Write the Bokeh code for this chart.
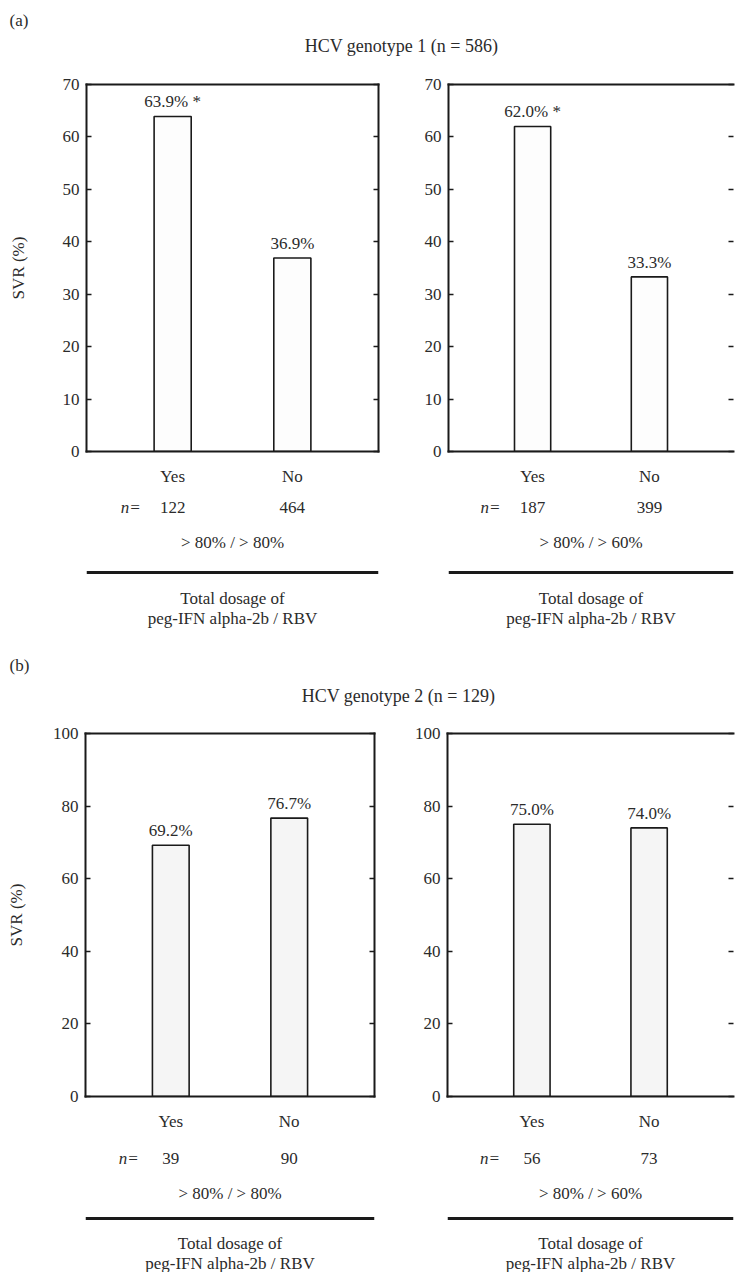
from bokeh.plotting import figure
from bokeh.models import (Range1d, LinearAxis, FixedTicker, ColumnDataSource,
                          LabelSet, Label, Span)
from bokeh.core.properties import value
from bokeh.layouts import column, row
from bokeh.embed import file_html
from bokeh.resources import INLINE

# ---------------- data ----------------
categories = ["Yes", "No"]
svr_g1_80_80 = [63.9, 36.9]
svr_g1_80_60 = [62.0, 33.3]
svr_g2_80_80 = [69.2, 76.7]
svr_g2_80_60 = [75.0, 74.0]
n_g1_80_80 = [122, 464]
n_g1_80_60 = [187, 399]
n_g2_80_80 = [39, 90]
n_g2_80_60 = [56, 73]
sig_g1_80_80 = ["*", ""]
sig_g1_80_60 = ["*", ""]
sig_g2_80_80 = ["", ""]
sig_g2_80_60 = ["", ""]
yticks_g1 = [0, 10, 20, 30, 40, 50, 60, 70]
yticks_g2 = [0, 20, 40, 60, 80, 100]
threshold_labels = ["> 80% / > 80%", "> 80% / > 60%"]
xlabel_lines = ["Total dosage of", "peg-IFN alpha-2b / RBV"]
group_titles = ["HCV genotype 1 (n = 586)", "HCV genotype 2 (n = 129)"]
panel_tags = ["(a)", "(b)"]
y_label = "SVR (%)"

# ---------------- style ----------------
FONT = "Liberation Serif"
FS = "17px"
TXT = "#2b2b2b"
LN = "#1a1a1a"
X0, X1 = -0.22, 2.22
xpos = [i + 0.5 for i in range(len(categories))]
BAR_W = 0.31
AXIS_BAND = 40  # space under the frame kept for the Yes/No axis


def hidden_label_axis(ticks, line_color, tick_in):
    ax = LinearAxis(ticker=FixedTicker(ticks=ticks), major_tick_in=tick_in, major_tick_out=0,
                    major_tick_line_width=1.5, major_tick_line_color=LN,
                    minor_tick_line_color=None, major_label_text_color=None,
                    major_label_text_font_size="1px",
                    major_label_overrides={t: "" for t in ticks},
                    major_label_standoff=0, axis_line_width=2, axis_line_cap="square",
                    axis_line_color=line_color)
    return ax


def make_panel(values, ns, sigs, yticks, threshold, width, top_h, low_h, bl, br, bt,
               offs, is_left, bar_fill, ylab_standoff):
    ymax = yticks[-1]
    xr = Range1d(X0, X1)
    p = figure(width=width, height=top_h, x_range=xr, y_range=Range1d(0, ymax),
               output_backend="svg", toolbar_location=None,
               min_border_left=bl, min_border_right=br, min_border_top=bt,
               min_border_bottom=AXIS_BAND)
    p.outline_line_color = None
    p.grid.visible = False

    src = ColumnDataSource(dict(
        xpos=xpos, cat=categories, svr=values,
        label=[f"{v:.1f}%" + (" " + s if s else "") for v, s in zip(values, sigs)],
        n=[str(n) for n in ns],
        y_n=[offs["n"]] * len(categories),
    ))

    p.vbar(x="xpos", top="svr", width=BAR_W, source=src, fill_color=bar_fill,
           line_color=LN, line_width=1.6)

    # x axis (bottom)
    xa = p.xaxis[0]
    xa.ticker = FixedTicker(ticks=xpos)
    xa.major_label_overrides = {x: c for x, c in zip(xpos, categories)}
    xa.major_tick_in = 0
    xa.major_tick_out = 0
    xa.minor_tick_line_color = None
    xa.axis_line_width = 2
    xa.axis_line_color = LN
    xa.axis_line_cap = "square"
    xa.major_label_standoff = 15
    xa.major_label_text_font = FONT
    xa.major_label_text_font_size = FS
    xa.major_label_text_color = TXT

    # y axis (left)
    ya = p.yaxis[0]
    ya.ticker = FixedTicker(ticks=yticks)
    ya.major_tick_in = 5
    ya.major_tick_out = 0
    ya.major_tick_line_width = 1.5
    ya.major_tick_line_color = LN
    ya.minor_tick_line_color = None
    ya.axis_line_width = 2
    ya.axis_line_color = LN
    ya.axis_line_cap = "square"
    ya.major_label_standoff = 7
    ya.major_label_text_font = FONT
    ya.major_label_text_font_size = FS
    ya.major_label_text_color = TXT
    if is_left:
        ya.axis_label = y_label
        ya.axis_label_text_font = FONT
        ya.axis_label_text_font_size = FS
        ya.axis_label_text_font_style = "normal"
        ya.axis_label_text_color = TXT
        ya.axis_label_standoff = ylab_standoff

    # right side: inward ticks (frame line only on the left panels)
    p.add_layout(hidden_label_axis(yticks, LN if is_left else None, 5), "right")
    # top frame line
    p.add_layout(hidden_label_axis([], LN, 0), "above")

    # value labels above bars
    p.add_layout(LabelSet(x="xpos", y="svr", text="label", source=src, y_offset=9,
                          text_align="center", text_baseline="alphabetic",
                          text_font=value(FONT), text_font_size=value(FS),
                          text_color=TXT))

    # lower strip: sample sizes, threshold, rule and x title
    q = figure(width=width, height=low_h, x_range=xr, y_range=Range1d(low_h, 0),
               output_backend="svg", toolbar_location=None, x_axis_location=None,
               y_axis_location=None, min_border_left=bl, min_border_right=br,
               min_border_top=0, min_border_bottom=0)
    q.outline_line_color = None
    q.grid.visible = False
    q.add_layout(Label(x=xpos[0], y=offs["n"], x_offset=-42, text="n=",
                       text_align="center", text_baseline="middle", text_font=FONT,
                       text_font_size=FS, text_font_style="italic", text_color=TXT))
    q.add_layout(LabelSet(x="xpos", y="y_n", text="n", source=src,
                          text_align="center", text_baseline="middle",
                          text_font=value(FONT), text_font_size=value(FS),
                          text_color=TXT))
    xc = (X0 + X1) / 2
    q.add_layout(Label(x=xc, y=offs["thr"], text=threshold, text_align="center",
                       text_baseline="middle", text_font=FONT, text_font_size=FS,
                       text_color=TXT))
    q.add_layout(Span(location=offs["line"], dimension="width", line_width=3,
                      line_color=LN))
    for key, txt in zip(["t1", "t2"], xlabel_lines):
        q.add_layout(Label(x=xc, y=offs[key], text=txt, text_align="center",
                           text_baseline="middle", text_font=FONT, text_font_size=FS,
                           text_color=TXT))
    return column(p, q)


def make_header(tag, title, height, tag_y, title_y, title_x):
    h = figure(width=735, height=height, x_range=Range1d(0, 735), y_range=Range1d(height, 0),
               output_backend="svg", toolbar_location=None, x_axis_location=None,
               y_axis_location=None, min_border=0)
    h.outline_line_color = None
    h.grid.visible = False
    h.add_layout(Label(x=9, y=tag_y, text=tag, text_align="left", text_baseline="middle",
                       text_font=FONT, text_font_size=FS, text_color=TXT))
    h.add_layout(Label(x=title_x, y=title_y, text=title, text_align="center",
                       text_baseline="middle", text_font=FONT, text_font_size="18px",
                       text_color=TXT))
    return h


# offsets inside the lower strip (pixels from its top)
offs_a = dict(n=16, thr=51, line=81, t1=107, t2=127)
offs_b = dict(n=22, thr=57, line=82, t1=107, t2=127)

top_a = 24 + 367 + AXIS_BAND
low_a = 580 - top_a
top_b = 23 + 363 + AXIS_BAND
low_b = 562 - top_b

ha = make_header(panel_tags[0], group_titles[0], 60, 20, 45, 401)
a1 = make_panel(svr_g1_80_80, n_g1_80_80, sig_g1_80_80, yticks_g1, threshold_labels[0],
                400, top_a, low_a, 86, 22, 24, offs_a, True, "#fdfdfd", 32)
a2 = make_panel(svr_g1_80_60, n_g1_80_60, sig_g1_80_60, yticks_g1, threshold_labels[1],
                335, top_a, low_a, 48, 2, 24, offs_a, False, "#fdfdfd", 0)
hb = make_header(panel_tags[1], group_titles[1], 70, 25, 55, 398)
b1 = make_panel(svr_g2_80_80, n_g2_80_80, sig_g2_80_80, yticks_g2, threshold_labels[0],
                400, top_b, low_b, 85, 26, 23, offs_b, True, "#f5f5f5", 24)
b2 = make_panel(svr_g2_80_60, n_g2_80_60, sig_g2_80_60, yticks_g2, threshold_labels[1],
                335, top_b, low_b, 47, 2, 23, offs_b, False, "#f5f5f5", 0)

layout = column(ha, row(a1, a2), hb, row(b1, b2))
open("out.html", "w").write(file_html(layout, INLINE))
